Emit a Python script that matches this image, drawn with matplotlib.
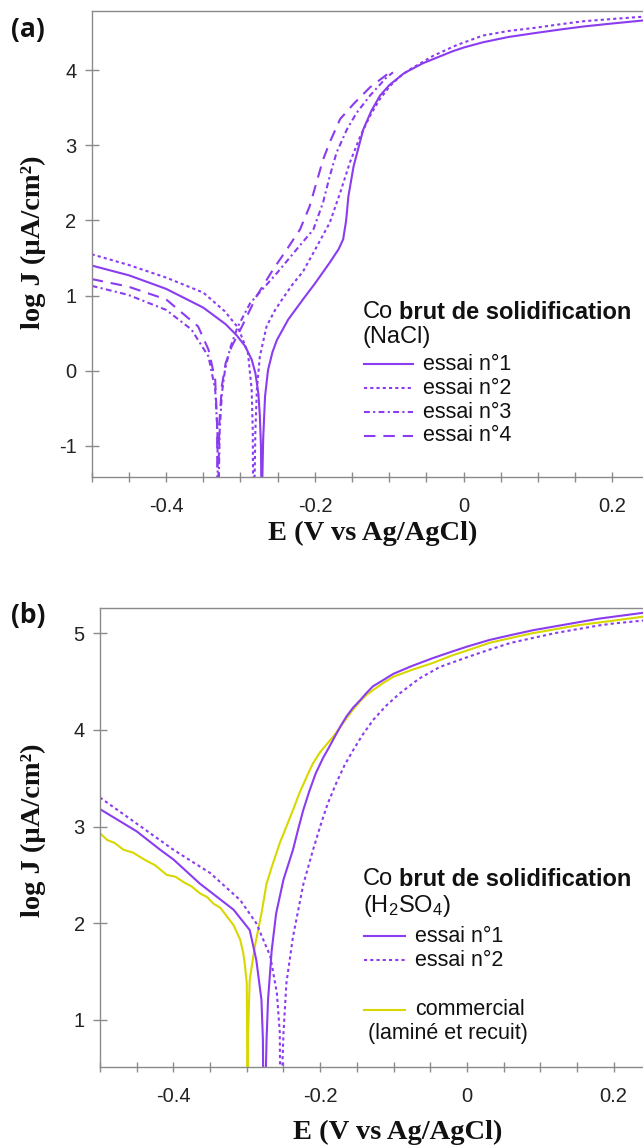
import matplotlib.pyplot as plt
from matplotlib.lines import Line2D
from matplotlib.ticker import MultipleLocator, FuncFormatter

plt.rcParams["font.family"] = ["Liberation Sans", "DejaVu Sans"]
plt.rcParams["axes.unicode_minus"] = False

W, H = 643, 1146
PURPLE = "#8b3cf0"
YELLOW = "#d8d800"
GREY = "#8a8a8a"

# ---- (a) NaCl, four runs ----
a1_e = [-0.5, -0.45, -0.40, -0.35, -0.32, -0.305, -0.294, -0.285, -0.280, -0.276, -0.274, -0.2725, -0.2718,
        -0.2712, -0.2695, -0.267, -0.263, -0.257, -0.251, -0.236, -0.216, -0.200, -0.180, -0.168, -0.162,
        -0.158, -0.155, -0.148, -0.135, -0.124, -0.1125, -0.10, -0.08, -0.055, -0.035, -0.015, 0.0, 0.026,
        0.06, 0.094, 0.13, 0.161, 0.2, 0.241]
a1_j = [1.40, 1.27, 1.09, 0.84, 0.62, 0.47, 0.33, 0.15, -0.03, -0.30, -0.60, -1.0, -1.7,
        -1.7, -0.9, -0.34, 0.01, 0.25, 0.41, 0.68, 0.95, 1.16, 1.44, 1.62, 1.75,
        2.0, 2.32, 2.72, 3.21, 3.46, 3.66, 3.80, 3.96, 4.09, 4.17, 4.25, 4.30, 4.37,
        4.44, 4.49, 4.54, 4.58, 4.62, 4.66]

a2_e = [-0.5, -0.451, -0.40, -0.35, -0.321, -0.303, -0.29, -0.285, -0.2835, -0.283,
        -0.2815, -0.280, -0.278, -0.274, -0.265, -0.254, -0.244, -0.23, -0.216, -0.202, -0.18, -0.166,
        -0.153, -0.139, -0.126, -0.113, -0.099, -0.085, -0.072, -0.041, -0.01, 0.026, 0.06, 0.094,
        0.13, 0.161, 0.2, 0.241]
a2_j = [1.55, 1.41, 1.24, 1.04, 0.79, 0.57, 0.24, -0.25, -0.8, -1.7,
        -1.7, -0.8, -0.25, 0.19, 0.59, 0.80, 0.95, 1.15, 1.32, 1.57, 1.97, 2.37,
        2.77, 3.12, 3.39, 3.61, 3.79, 3.92, 4.01, 4.19, 4.33, 4.46, 4.52, 4.56,
        4.61, 4.65, 4.68, 4.71]

a3_e = [-0.5, -0.451, -0.40, -0.366, -0.343, -0.334, -0.331, -0.3305,
        -0.3295, -0.328, -0.325, -0.321, -0.314, -0.304, -0.287, -0.251, -0.225, -0.202, -0.189,
        -0.18, -0.171, -0.157, -0.144, -0.126, -0.104, -0.095]
a3_j = [1.13, 1.01, 0.81, 0.55, 0.19, -0.25, -0.8, -1.7,
        -1.7, -0.8, -0.3, 0.0, 0.3, 0.58, 0.9, 1.30, 1.61, 1.88, 2.24,
        2.59, 2.90, 3.21, 3.43, 3.66, 3.90, 3.97]

a4_e = [-0.5, -0.451, -0.40, -0.357, -0.343, -0.334, -0.3315, -0.331,
        -0.330, -0.3285, -0.325, -0.32, -0.312, -0.298, -0.278, -0.256, -0.238, -0.22, -0.207,
        -0.198, -0.189, -0.18, -0.166, -0.148, -0.126, -0.102]
a4_j = [1.22, 1.12, 0.95, 0.59, 0.28, -0.12, -0.7, -1.7,
        -1.7, -0.7, -0.2, 0.1, 0.32, 0.59, 1.0, 1.35, 1.61, 1.88, 2.19,
        2.50, 2.81, 3.04, 3.35, 3.55, 3.77, 3.95]

# ---- (b) H2SO4, two runs + commercial ----
b1_e = [-0.5, -0.45, -0.418, -0.40, -0.364, -0.318, -0.296, -0.287, -0.280, -0.278, -0.2775,
        -0.2745, -0.273, -0.271, -0.266, -0.26, -0.25, -0.237, -0.23, -0.223, -0.215, -0.206,
        -0.196, -0.19, -0.18, -0.172, -0.164, -0.155, -0.145, -0.137, -0.128, -0.115, -0.10,
        -0.075, -0.047, -0.02, 0.0, 0.031, 0.06, 0.09, 0.12, 0.15, 0.18, 0.2, 0.24]
b1_j = [3.18, 2.95, 2.76, 2.66, 2.41, 2.14, 1.93, 1.62, 1.21, 0.8, 0.3,
        0.3, 0.8, 1.21, 1.72, 2.10, 2.45, 2.76, 2.97, 3.17, 3.36, 3.55,
        3.71, 3.79, 3.93, 4.04, 4.14, 4.23, 4.31, 4.38, 4.45, 4.51, 4.58,
        4.66, 4.74, 4.81, 4.86, 4.93, 4.98, 5.03, 5.07, 5.11, 5.15, 5.17, 5.21]

b2_e = [-0.5, -0.45, -0.40, -0.35, -0.309, -0.287, -0.268, -0.259, -0.255, -0.2545,
        -0.2525, -0.250, -0.246, -0.237, -0.223, -0.21, -0.20, -0.19, -0.178, -0.167, -0.155,
        -0.142, -0.128, -0.11, -0.091, -0.065, -0.037, 0.0, 0.031, 0.06, 0.09, 0.12, 0.15,
        0.18, 0.2, 0.24]
b2_j = [3.30, 3.03, 2.76, 2.52, 2.24, 2.00, 1.66, 1.28, 0.87, 0.3,
        0.3, 0.86, 1.38, 1.86, 2.40, 2.75, 3.00, 3.23, 3.45, 3.63, 3.79,
        3.95, 4.10, 4.25, 4.38, 4.53, 4.65, 4.75, 4.83, 4.90, 4.95, 5.00, 5.04,
        5.08, 5.10, 5.13]

bc_e = [-0.5, -0.49, -0.48, -0.468, -0.455, -0.44, -0.425, -0.409, -0.397, -0.385, -0.375, -0.364,
        -0.354, -0.345, -0.336, -0.327, -0.318, -0.309, -0.305, -0.303, -0.3, -0.2995, -0.2993,
        -0.2985, -0.298, -0.296, -0.289, -0.28, -0.273, -0.266, -0.255, -0.246, -0.237, -0.228,
        -0.218, -0.21, -0.20, -0.19, -0.18, -0.164, -0.155, -0.145, -0.137, -0.128, -0.115,
        -0.10, -0.075, -0.047, -0.02, 0.0, 0.031, 0.06, 0.09, 0.12, 0.15, 0.18, 0.2, 0.24]
bc_j = [2.93, 2.86, 2.83, 2.76, 2.73, 2.66, 2.60, 2.50, 2.48, 2.42, 2.38, 2.31,
        2.27, 2.20, 2.16, 2.07, 1.98, 1.83, 1.70, 1.60, 1.38, 0.9, 0.3,
        0.3, 0.9, 1.41, 1.76, 2.10, 2.41, 2.58, 2.83, 3.00, 3.17, 3.35,
        3.52, 3.65, 3.77, 3.86, 3.95, 4.12, 4.21, 4.30, 4.36, 4.41, 4.48,
        4.55, 4.62, 4.69, 4.77, 4.82, 4.90, 4.95, 5.00, 5.04, 5.08, 5.11, 5.13, 5.17]

DOT = (0, (1.5, 1.5))
DASHDOT = (0, (2.8, 1.6, 1.0, 1.6))
DASH = (0, (5.5, 3.8))

fig = plt.figure(figsize=(W / 100, H / 100), dpi=100)


def fx(x):
    return x / W


def fy(y):
    return 1 - y / H


def style_axes(ax, xlim, ylim, yticks):
    ax.set_xlim(*xlim)
    ax.set_ylim(*ylim)
    ax.xaxis.set_major_locator(MultipleLocator(0.2))
    ax.xaxis.set_minor_locator(MultipleLocator(0.05))
    ax.xaxis.set_major_formatter(FuncFormatter(lambda v, p: f"{round(v, 2) + 0.0:g}"))
    ax.set_yticks(yticks)
    ax.spines["right"].set_visible(False)
    for s in ax.spines.values():
        s.set_color(GREY)
        s.set_linewidth(1.0)
    ax.tick_params(axis="x", which="both", direction="inout", length=7, width=1.0,
                   color=GREY, labelsize=14.5, pad=11, labelcolor="#222222")
    ax.tick_params(axis="y", direction="inout", length=10, width=1.0,
                   color=GREY, labelsize=14.5, pad=6, labelcolor="#222222")


def header(x, y, tail):
    t = fig.text(fx(x), fy(y), "Co", fontsize=17, va="center", ha="left", color="#111111")
    plt.annotate(tail, xy=(1, 0.5), xycoords=t, xytext=(4.6, 0), textcoords="offset points",
                 fontsize=17, fontweight="bold", va="center", ha="left", color="#111111")


def legend_row(x0, x1, y, text, color, ls, tx):
    fig.add_artist(Line2D([fx(x0), fx(x1)], [fy(y), fy(y)], transform=fig.transFigure,
                          color=color, lw=1.5, linestyle=ls))
    fig.text(fx(tx), fy(y), text, fontsize=15.5, va="center", ha="left", color="#111111")


label_font = dict(family="Liberation Serif", fontweight="bold", fontsize=20.5, color="#111111")
tag_font = dict(family="Open Sans", fontweight="bold", fontsize=19, color="#111111")

# ---- panel (a) ----
axa = fig.add_axes([91.7 / W, 1 - 477.3 / H, 1 - 91.7 / W, (477.3 - 10.7) / H])
axa.plot(a1_e, a1_j, color=PURPLE, lw=1.5, linestyle="-")
axa.plot(a2_e, a2_j, color=PURPLE, lw=1.5, linestyle=DOT)
axa.plot(a3_e, a3_j, color=PURPLE, lw=1.5, linestyle=DASHDOT)
axa.plot(a4_e, a4_j, color=PURPLE, lw=1.5, linestyle=DASH)
style_axes(axa, (-0.5, 0.241), (-1.417, 4.79), [-1, 0, 1, 2, 3, 4])

fig.text(fx(28), fy(30), "(a)", ha="center", va="center", **tag_font)
fig.text(fx(373), fy(533), "E (V vs Ag/AgCl)", ha="center", va="center", **label_font)
fig.text(fx(33), fy(242), "log J (µA/cm²)", ha="center", va="center", rotation=90, **label_font)

header(362.7, 312, "brut de solidification")
fig.text(fx(362.7), fy(337.5), "(NaCl)", fontsize=17, va="center", ha="left", color="#111111")
legend_row(364, 413, 364, "essai n°1", PURPLE, "-", 422.7)
legend_row(364, 413, 388, "essai n°2", PURPLE, DOT, 422.7)
legend_row(364, 413, 412, "essai n°3", PURPLE, DASHDOT, 422.7)
legend_row(364, 413, 436, "essai n°4", PURPLE, DASH, 422.7)

# ---- panel (b) ----
axb = fig.add_axes([100 / W, 1 - 1067.3 / H, 1 - 100 / W, (1067.3 - 608) / H])
axb.plot(bc_e, bc_j, color=YELLOW, lw=1.5, linestyle="-")
axb.plot(b1_e, b1_j, color=PURPLE, lw=1.5, linestyle="-")
axb.plot(b2_e, b2_j, color=PURPLE, lw=1.5, linestyle=DOT)
style_axes(axb, (-0.5, 0.24), (0.51, 5.26), [1, 2, 3, 4, 5])

fig.text(fx(28), fy(616), "(b)", ha="center", va="center", **tag_font)
fig.text(fx(398), fy(1132), "E (V vs Ag/AgCl)", ha="center", va="center", **label_font)
fig.text(fx(33), fy(830), "log J (µA/cm²)", ha="center", va="center", rotation=90, **label_font)

header(362.7, 879, "brut de solidification")
fig.text(fx(362.7), fy(906), r"(H$\mathregular{_2}$SO$\mathregular{_4}$)", fontsize=17,
         va="center", ha="left", color="#111111")
legend_row(364, 405, 936, "essai n°1", PURPLE, "-", 415)
legend_row(364, 405, 960, "essai n°2", PURPLE, DOT, 415)
legend_row(364, 405, 1009.5, "commercial", YELLOW, "-", 415)
fig.text(fx(368), fy(1033.5), "(laminé et recuit)", fontsize=15.5, va="center", ha="left",
         color="#111111")

fig.savefig("out.png", dpi=100)
